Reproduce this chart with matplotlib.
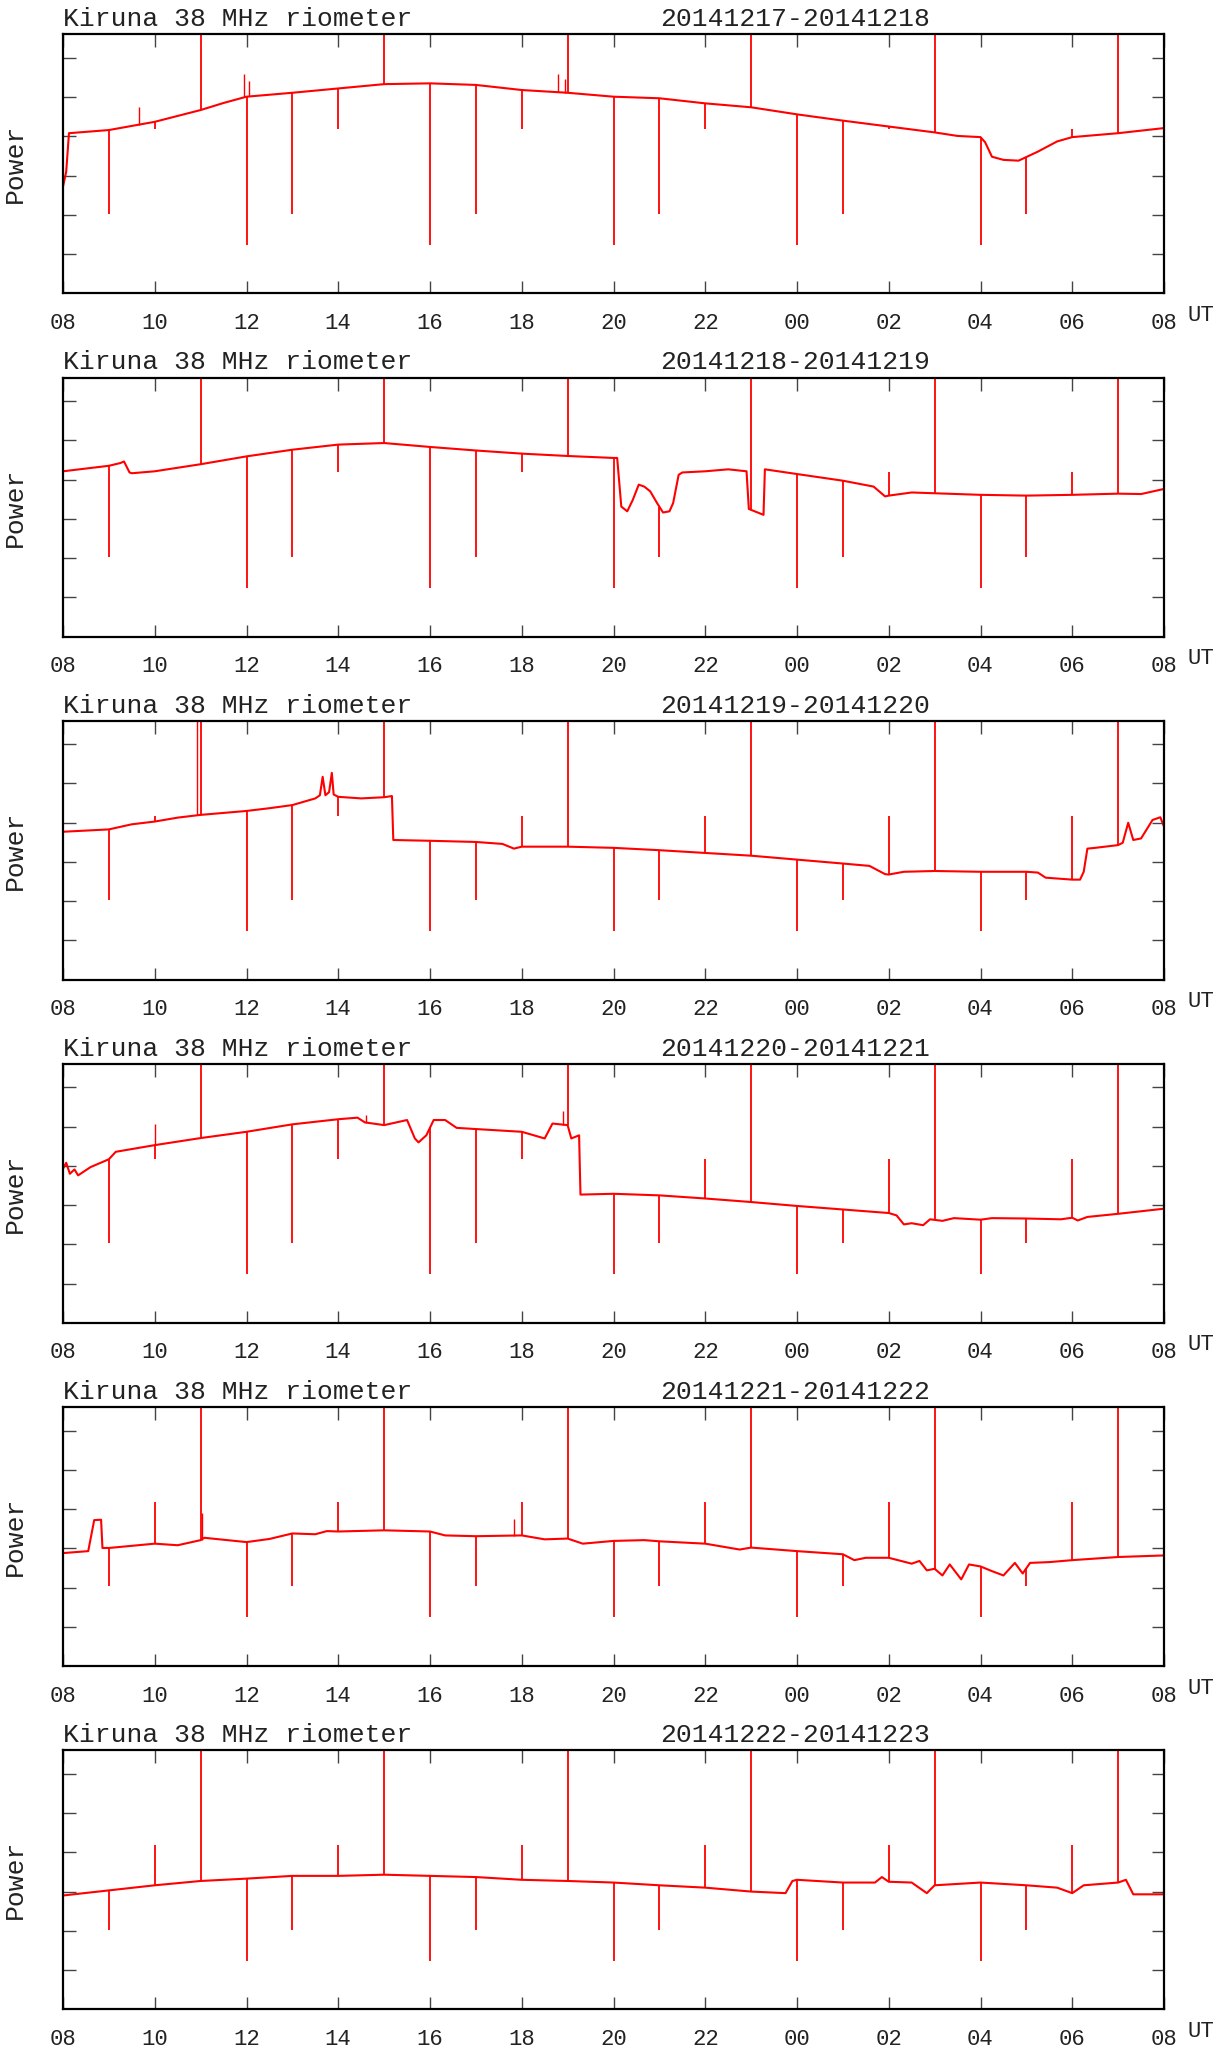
import matplotlib
matplotlib.use('Agg')
import matplotlib.pyplot as plt
import numpy as np

plt.rcParams['font.family'] = ['Liberation Mono', 'DejaVu Sans Mono']

# time axis: hours after 08 UT, tick labels every 2 h
tick_hours = list(range(0, 25, 2))
tick_labels = ['08', '10', '12', '14', '16', '18', '20', '22', '00', '02', '04', '06', '08']

titles = ['20141217-20141218', '20141218-20141219', '20141219-20141220',
          '20141220-20141221', '20141221-20141222', '20141222-20141223']

# hourly calibration pulses (hours after 08 UT) and the level they reach
cal_hours = list(range(1, 25))
cal_levels = [2.03, 4.18, 7.0, 1.24, 2.03, 4.18, 7.0, 1.24,
              2.03, 4.18, 7.0, 1.24, 2.03, 4.18, 7.0, 1.24,
              2.03, 4.18, 7.0, 1.24, 2.03, 4.18, 7.0, 1.24]

# riometer power (hours after 08 UT, power)
t1 = [0, 0.07, 0.13, 1, 2, 3, 3.5, 4, 5, 6, 7, 8, 9, 10, 11, 12, 13, 14, 15, 16, 17, 18, 19,
      19.5, 20, 20.1, 20.25, 20.5, 20.83, 21.25, 21.67, 22, 23, 24]
p1 = [2.72, 3.1, 4.08, 4.16, 4.37, 4.67, 4.85, 5.01, 5.11, 5.22, 5.33, 5.35, 5.31, 5.18, 5.11,
      5.01, 4.97, 4.84, 4.74, 4.56, 4.40, 4.25, 4.10, 4.01, 3.98, 3.85, 3.48, 3.40, 3.38,
      3.61, 3.87, 3.98, 4.08, 4.21]

t2 = [0, 1, 1.25, 1.33, 1.45, 1.5, 2, 3, 4, 5, 6, 7, 8, 9, 10, 11, 12, 12.08, 12.17,
      12.3, 12.42, 12.55, 12.67, 12.8, 12.95, 13.08, 13.22, 13.3, 13.42, 13.5, 14, 14.5,
      14.9, 14.95, 15.27, 15.3, 16, 17, 17.67, 17.92, 18, 18.5, 19, 20, 21, 22, 23, 23.5, 24]
p2 = [4.21, 4.35, 4.42, 4.46, 4.18, 4.16, 4.21, 4.39, 4.59, 4.76, 4.89, 4.93, 4.83, 4.74,
      4.66, 4.60, 4.55, 4.55, 3.31, 3.19, 3.48, 3.87, 3.82, 3.70, 3.40, 3.16, 3.19, 3.40,
      4.12, 4.18, 4.21, 4.26, 4.21, 3.25, 3.10, 4.26, 4.14, 3.97, 3.82, 3.57, 3.59, 3.67,
      3.65, 3.61, 3.59, 3.61, 3.64, 3.63, 3.76]

t3 = [0, 1, 1.5, 2, 2.5, 3, 4, 4.5, 5, 5.5, 5.6, 5.66, 5.72, 5.8, 5.86, 5.9, 6, 6.5, 7,
      7.17, 7.2, 8, 9, 9.58, 9.83, 10, 11, 12, 13, 14, 15, 16, 17, 17.58, 17.92, 18, 18.33,
      19, 20, 21, 21.25, 21.42, 22, 22.17, 22.25, 22.33, 22.5, 23, 23.1, 23.22, 23.33,
      23.5, 23.75, 23.92, 24]
p3 = [3.77, 3.83, 3.96, 4.03, 4.13, 4.20, 4.30, 4.37, 4.45, 4.62, 4.70, 5.17, 4.70, 4.78,
      5.27, 4.72, 4.66, 4.62, 4.65, 4.68, 3.56, 3.54, 3.51, 3.46, 3.34, 3.39, 3.39, 3.36,
      3.30, 3.23, 3.16, 3.06, 2.96, 2.90, 2.69, 2.68, 2.75, 2.77, 2.75, 2.75, 2.73, 2.60,
      2.55, 2.55, 2.75, 3.34, 3.36, 3.43, 3.49, 4.00, 3.56, 3.60, 4.07, 4.14, 3.90]

t4 = [0, 0.07, 0.15, 0.25, 0.33, 0.6, 1, 1.15, 1.5, 2, 3, 4, 5, 6, 6.42, 6.58, 7, 7.5,
      7.67, 7.75, 7.92, 8.08, 8.33, 8.58, 9, 10, 10.5, 10.67, 11, 11.08, 11.25, 11.28, 12,
      13, 14, 15, 16, 17, 18, 18.17, 18.33, 18.5, 18.75, 18.9, 19.17, 19.42, 20, 20.25,
      21, 21.75, 22, 22.12, 22.33, 23, 24]
p4 = [3.93, 4.08, 3.80, 3.91, 3.76, 3.97, 4.17, 4.36, 4.43, 4.53, 4.71, 4.87, 5.06, 5.19,
      5.23, 5.11, 5.04, 5.17, 4.70, 4.60, 4.78, 5.17, 5.17, 4.97, 4.94, 4.87, 4.70, 5.08,
      5.04, 4.70, 4.78, 3.27, 3.29, 3.25, 3.17, 3.08, 2.98, 2.89, 2.80, 2.74, 2.51, 2.54,
      2.49, 2.64, 2.60, 2.67, 2.63, 2.67, 2.66, 2.64, 2.68, 2.61, 2.70, 2.78, 2.91]

t5 = [0, 0.55, 0.68, 0.83, 0.86, 1, 2, 2.5, 3, 3.08, 4, 4.5, 5, 5.5, 5.75, 6, 7, 8, 8.33,
      9, 10, 10.5, 11, 11.33, 12, 12.67, 13, 14, 14.75, 15, 16, 17, 17.25, 17.5, 18, 18.5,
      18.67, 18.83, 19, 19.17, 19.33, 19.58, 19.75, 20, 20.25, 20.5, 20.75, 20.92, 21.08,
      21.5, 22, 23, 24]
p5 = [2.88, 2.93, 3.72, 3.73, 3.01, 3.01, 3.12, 3.08, 3.21, 3.27, 3.16, 3.24, 3.38, 3.36,
      3.44, 3.43, 3.46, 3.43, 3.33, 3.31, 3.33, 3.23, 3.25, 3.12, 3.19, 3.21, 3.18, 3.12,
      2.97, 3.02, 2.93, 2.85, 2.70, 2.76, 2.76, 2.61, 2.68, 2.44, 2.48, 2.31, 2.59, 2.21,
      2.59, 2.54, 2.42, 2.31, 2.63, 2.36, 2.63, 2.65, 2.70, 2.78, 2.82]

t6 = [0, 1, 2, 3, 4, 5, 6, 7, 8, 9, 10, 11, 12, 13, 14, 15, 15.75, 15.9, 16, 17, 17.7,
      17.85, 18, 18.5, 18.83, 19, 20, 21, 21.67, 22, 22.25, 23, 23.17, 23.33, 24]
p6 = [2.90, 3.03, 3.16, 3.27, 3.33, 3.40, 3.40, 3.43, 3.40, 3.37, 3.30, 3.27, 3.23, 3.16,
      3.10, 3.00, 2.96, 3.27, 3.30, 3.23, 3.23, 3.37, 3.25, 3.23, 2.96, 3.16, 3.23, 3.16,
      3.10, 2.96, 3.16, 3.23, 3.30, 2.93, 2.93]

# extra short spikes (hours after 08 UT, level)
x1 = [(1.65, 4.74), (3.95, 5.59), (4.05, 5.4), (10.8, 5.6), (10.95, 5.45)]
x2 = []
x3 = [(2.92, 7.0)]
x4 = [(2.0, 5.06), (6.6, 5.3), (10.9, 5.4)]
x5 = [(3.02, 3.89), (9.83, 3.76)]
x6 = []

series = [(t1, p1, x1), (t2, p2, x2), (t3, p3, x3), (t4, p4, x4), (t5, p5, x5), (t6, p6, x6)]

W, H = 1231, 2051
fig = plt.figure(figsize=(W / 100, H / 100), dpi=100)
txt = '#222222'

for i, (t, p, extra) in enumerate(series):
    top = 34.3 + 343.2 * i
    ax = fig.add_axes([63 / W, 1 - (top + 259) / H, 1101 / W, 259 / H])
    t = np.array(t)
    p = np.array(p)
    ax.plot(t, p, color='red', lw=1.5)
    base = np.interp(cal_hours, t, p)
    ax.vlines(cal_hours, base, cal_levels, color='red', lw=1.3)
    if extra:
        et = [e[0] for e in extra]
        el = [e[1] for e in extra]
        ax.vlines(et, np.interp(et, t, p), el, color='red', lw=1.0)
    ax.set_xlim(0, 24)
    ax.set_ylim(0, 6.6)
    ax.set_xticks(tick_hours)
    ax.set_xticklabels(tick_labels)
    ax.set_yticks([1, 2, 3, 4, 5, 6])
    ax.set_yticklabels([])
    ax.tick_params(direction='in', length=9, width=1, color='#444444',
                   top=True, right=True, labelsize=16, labelcolor=txt, pad=14)
    for s in ax.spines.values():
        s.set_linewidth(1.6)
        s.set_color('black')
    ax.set_ylabel('Power', fontsize=19, color=txt, labelpad=12)
    ax.text(0, 1.012, 'Kiruna 38 MHz riometer', transform=ax.transAxes,
            fontsize=19, color=txt, ha='left', va='bottom')
    ax.text(0.542, 1.012, titles[i], transform=ax.transAxes,
            fontsize=19, color=txt, ha='left', va='bottom')
    ax.text(1.021, -0.085, 'UT', transform=ax.transAxes,
            fontsize=16, color=txt, ha='left', va='center')

fig.savefig('out.png', dpi=100)
